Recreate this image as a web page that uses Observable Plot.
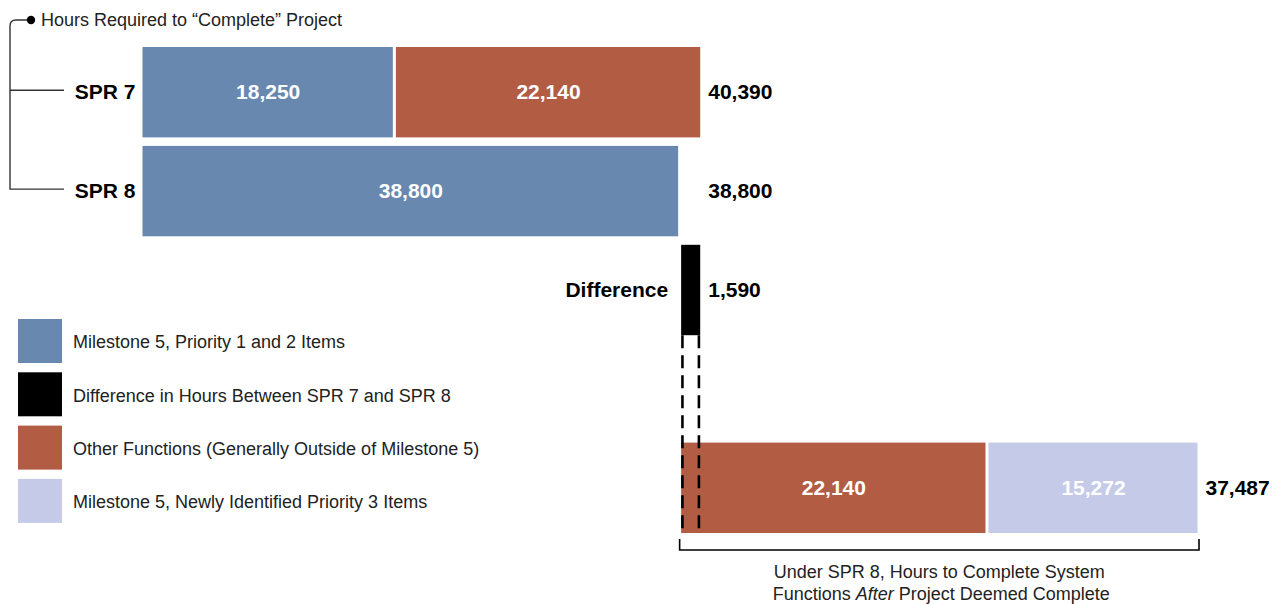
<!DOCTYPE html>
<html><head><meta charset="utf-8">
<script src="https://cdn.jsdelivr.net/npm/d3@7"></script>
<script src="https://cdn.jsdelivr.net/npm/@observablehq/plot@0.6"></script>
<style>
body{margin:0;background:#fff;}
#chart{position:relative;width:1278px;height:604px;overflow:hidden;}
</style>
</head><body><div id="chart"></div>
<script>
// ---- data ----
const rows = ["SPR 7", "SPR 8", "Difference", " ", "After"];
const categories = [
  "Milestone 5, Priority 1 and 2 Items",
  "Difference in Hours Between SPR 7 and SPR 8",
  "Other Functions (Generally Outside of Milestone 5)",
  "Milestone 5, Newly Identified Priority 3 Items"
];
const colors = ["#6888b0", "#000000", "#b35c44", "#c4cae8"];
const spr7Values = [18250, 22140];
const spr7Cats = [categories[0], categories[2]];
const spr8Values = [38800];
const spr8Cats = [categories[0]];
const differenceValue = 1590;
const afterValues = [22140, 15272];
const afterCats = [categories[2], categories[3]];
const totals = [40390, 38800, 1590, 37487];
const totalRows = ["SPR 7", "SPR 8", "Difference", "After"];
const title = "Hours Required to \u201CComplete\u201D Project";
const captionLine1 = "Under SPR 8, Hours to Complete System";
const captionLine2 = ["Functions ", "After", " Project Deemed Complete"];

// ---- build table ----
const fmt = d3.format(",");
function stack(row, values, cats, start) {
  let x = start;
  return values.map((v, i) => ({row, cat: cats[i], value: v, x1: x, x2: (x += v)}));
}
const spr8Total = d3.sum(spr8Values);
const segs = [
  ...stack("SPR 7", spr7Values, spr7Cats, 0),
  ...stack("SPR 8", spr8Values, spr8Cats, 0),
  ...stack("Difference", [differenceValue], [categories[1]], spr8Total),
  ...stack("After", afterValues, afterCats, spr8Total)
];
const xmax = d3.max(segs, d => d.x2);
const topEnd = d3.max(segs.filter(d => d.row === "SPR 7" || d.row === "SPR 8"), d => d.x2);
const totalTable = totalRows.map((row, i) => ({
  row, label: fmt(totals[i]),
  x: row === "After" ? xmax : topEnd
}));
const font = "'Liberation Sans', Arial, Helvetica, sans-serif";

const plot = Plot.plot({
  width: 1278, height: 604,
  marginLeft: 141, marginRight: 79, marginTop: 47, marginBottom: 71,
  style: {fontFamily: font, background: "white", overflow: "visible"},
  x: {domain: [0, xmax], axis: null},
  y: {domain: rows, axis: null, paddingInner: 0.086, paddingOuter: 0, round: false},
  color: {domain: categories, range: colors},
  marks: [
    Plot.barX(segs, {x1: "x1", x2: "x2", y: "row", fill: "cat", insetLeft: 1.5, insetRight: 1.5}),
    Plot.text(segs.filter(d => d.row !== "Difference"), {
      x: d => (d.x1 + d.x2) / 2, y: "row", text: d => fmt(d.value),
      fill: "white", fontWeight: "bold", fontSize: 21
    }),
    Plot.text(["SPR 7", "SPR 8"], {x: 0, y: d => d, text: d => d, textAnchor: "end", dx: -6,
      fill: "black", fontWeight: "bold", fontSize: 21}),
    Plot.text(["Difference"], {x: spr8Total, y: d => d, text: d => d, textAnchor: "end", dx: -12,
      fill: "black", fontWeight: "bold", fontSize: 21}),
    Plot.text(totalTable, {x: "x", y: "row", text: "label", textAnchor: "start", dx: 6,
      fill: "black", fontWeight: "bold", fontSize: 21})
  ]
});
document.getElementById("chart").appendChild(plot);

// ---- annotations using the plot's scales ----
const sx = plot.scale("x"), sy = plot.scale("y");
const bw = sy.bandwidth;
const svg = d3.select(plot);
const ink = "#222";

// dashed guides under the difference bar
const diff = segs.find(d => d.row === "Difference");
const yDiffBottom = sy.apply("Difference") + bw;
const yAfterTop = sy.apply("After");
const yAfterBottom = yAfterTop + bw;
[sx.apply(diff.x1) + 2.8, sx.apply(diff.x2) - 2.8].forEach(x => {
  svg.append("line").attr("x1", x).attr("x2", x).attr("y1", yDiffBottom).attr("y2", yAfterBottom)
    .attr("stroke", "black").attr("stroke-width", 2.6).attr("stroke-dasharray", "13,7");
});

// bottom bracket
const bx1 = sx.apply(spr8Total), bx2 = sx.apply(xmax);
const by = yAfterBottom + 17;
svg.append("path")
  .attr("d", `M${bx1},${yAfterBottom + 6}V${by}H${bx2}V${yAfterBottom + 6}`)
  .attr("fill", "none").attr("stroke", "black").attr("stroke-width", 1.6);
const cx = (bx1 + bx2) / 2;
svg.append("text").attr("x", cx).attr("y", by + 28).attr("text-anchor", "middle")
  .attr("font-size", 18).attr("fill", ink).text(captionLine1);
const t2 = svg.append("text").attr("x", cx + 2).attr("y", by + 50).attr("text-anchor", "middle")
  .attr("font-size", 18).attr("fill", ink);
captionLine2.forEach((s, i) => t2.append("tspan").attr("font-style", i === 1 ? "italic" : "normal").text(s));

// top-left bracket and title
const y7 = sy.apply("SPR 7") + bw / 2 - 2;
const y8 = sy.apply("SPR 8") + bw / 2 - 2;
svg.append("path")
  .attr("d", `M31,20H16Q10,20 10,26V${y8}H64M10,${y7}H64`)
  .attr("fill", "none").attr("stroke", "#333").attr("stroke-width", 1.4);
svg.append("circle").attr("cx", 31).attr("cy", 20).attr("r", 4.2).attr("fill", "black");
svg.append("text").attr("x", 41).attr("y", 26).attr("text-anchor", "start")
  .attr("font-size", 18).attr("fill", ink).text(title);

// legend
const lg = svg.append("g");
categories.forEach((c, i) => {
  const top = 319 + i * 53.3;
  lg.append("rect").attr("x", 18).attr("y", top).attr("width", 44).attr("height", 44).attr("fill", colors[i]);
  lg.append("text").attr("x", 73).attr("y", top + 23).attr("dy", "0.35em").attr("text-anchor", "start")
    .attr("font-size", 18).attr("fill", ink).text(c);
});
</script>
</body></html>
